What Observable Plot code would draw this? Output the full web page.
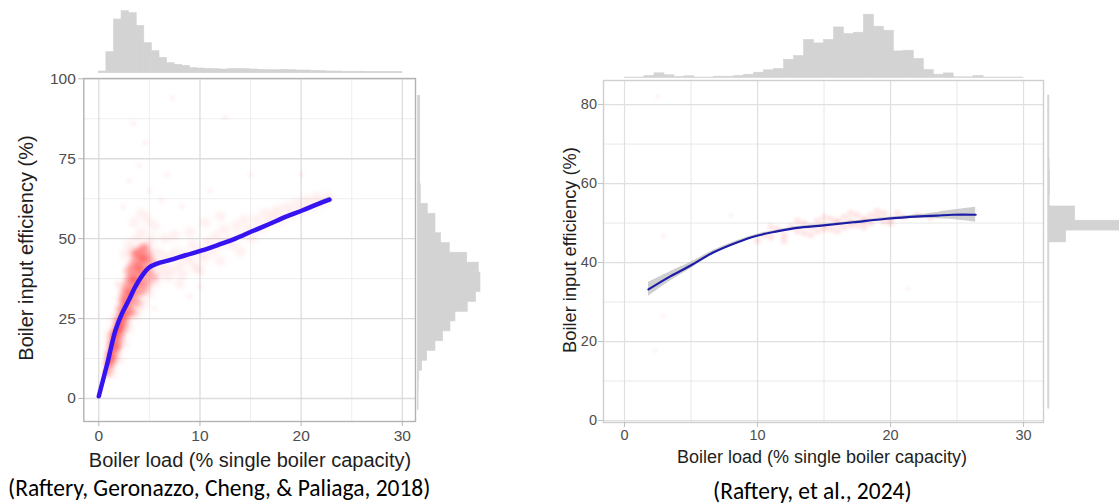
<!DOCTYPE html>
<html><head><meta charset="utf-8">
<script src="https://cdn.jsdelivr.net/npm/d3@7"></script>
<script src="https://cdn.jsdelivr.net/npm/@observablehq/plot@0.6"></script>
<style>
html,body{margin:0;padding:0;background:#fff;overflow:hidden;}
#root{position:relative;width:1119px;height:504px;overflow:hidden;}
.pl{position:absolute;}
.t{position:absolute;font-family:"Liberation Sans",Arial,sans-serif;color:#1e1e1e;white-space:nowrap;transform:translate(-50%,-50%);}
.ty{transform:translate(-50%,-50%) rotate(-90deg);}
.cap{position:absolute;font-family:Carlito,Lato,"Open Sans",sans-serif;color:#000;white-space:nowrap;transform:translateY(-50%);}
</style></head><body><div id="root"></div>
<script>
// ---------------- DATA ----------------
// Left panel (Raftery, Geronazzo, Cheng, & Paliaga, 2018)
const leftXTicks = [0, 10, 20, 30];
const leftXMinor = [5, 15, 25];
const leftYTicks = [0, 25, 50, 75, 100];
const leftYMinor = [12.5, 37.5, 62.5, 87.5];

const leftFitX = [0, 0.83, 1.65, 2.3, 2.96, 3.6, 4.3, 4.94, 5.77, 6.92, 8.57, 10.2, 11.86, 13.5, 15.15, 16.8, 18.45, 20.1, 21.7, 22.8];
const leftFitY = [0.7, 10.8, 21.3, 26.6, 30.7, 34.9, 38.5, 40.9, 42.2, 43.2, 44.8, 46.3, 48.1, 50.0, 52.3, 54.5, 56.8, 58.8, 60.9, 62.2];
const leftFitSE = [0.6, 0.4, 0.3, 0.3, 0.3, 0.3, 0.3, 0.3, 0.3, 0.3, 0.3, 0.3, 0.3, 0.3, 0.3, 0.35, 0.4, 0.5, 0.6, 0.8];

const leftCloudCore = [[0.8,8],[0.9,11],[1.0,14],[1.1,10],[1.2,13],[1.2,17],[1.3,15],[1.4,19],[1.4,12],[1.5,17],[1.6,21],[1.6,14],[1.7,19],[1.8,23],[1.8,16],[1.9,21],[2.0,25],[2.0,18],[2.1,23],[2.1,28],[2.2,20],[2.3,26],[2.3,31],[2.4,22],[2.5,28],[2.5,33],[2.6,24],[2.7,30],[2.7,35],[2.8,26],[2.9,32],[2.9,37],[3.0,28],[3.0,40],[3.1,34],[3.2,30],[3.2,38],[3.3,42],[3.4,32],[3.4,36],[3.5,40],[3.5,45],[3.6,34],[3.7,38],[3.7,43],[3.8,30],[3.9,36],[3.9,41],[4.0,45],[4.0,33],[4.1,39],[4.2,43],[4.2,36],[4.3,47],[4.4,40],[4.5,34],[4.5,44],[4.6,38],[4.7,42],[4.8,36],[4.9,45],[5.0,40],[5.2,43],[5.4,38],[1.5,20],[2.0,22],[2.5,26],[3.0,33],[3.5,37],[4.0,41],[4.4,44],[3.3,27],[2.6,30],[3.8,46],[4.6,47],[1.1,12],[1.7,16],[2.2,24]];
const leftCloudHalo = [[1.0,20],[1.5,25],[1.3,8],[2.0,12],[2.5,17],[2.2,35],[2.8,40],[3.0,22],[3.3,46],[3.6,26],[3.8,50],[4.0,28],[4.3,52],[4.5,30],[4.8,48],[5.0,33],[5.2,50],[5.5,46],[5.6,36],[5.8,42],[6.0,39],[6.2,45],[6.5,41],[6.8,38],[7.0,44],[7.3,40],[7.6,46],[8.0,42],[8.3,39],[8.6,45],[9.0,43],[9.3,48],[9.6,41],[10.0,46],[10.4,44],[10.8,49],[11.2,46],[11.6,51],[12.0,48],[12.4,53],[12.8,50],[13.2,48],[13.6,54],[14.0,51],[14.4,56],[14.8,53],[15.2,50],[15.6,56],[16.0,53],[16.4,58],[16.8,55],[17.2,57],[17.6,59],[18.0,56],[18.5,60],[19.0,58],[19.5,61],[20.0,59],[20.5,62],[21.0,60],[21.5,63],[22.0,61],[22.6,63],[3.5,55],[4.2,58],[4.8,56],[5.5,54],[6.5,50],[7.5,51],[9.0,52],[10.5,55],[12.0,57],[8.0,36],[10.0,40],[12.0,43],[14.0,46],[3.0,48],[2.6,45]];
const leftCloudFaint = [[3.0,68],[4.0,73],[5.0,65],[6.2,62],[7.3,94],[2.4,60],[8.2,60],[12.5,88],[15.0,70],[9.0,32],[1.8,36],[4.6,80],[6.8,70],[11,65],[20,70],[3.4,86],[5.5,28],[10,35]];

// marginal histogram of boiler load (bin edges, heights)
const leftLoadEdges = [0,0.75,1.5,2.25,3,3.75,4.5,5.25,6,6.75,7.5,8.25,9,9.75,10.5,11.25,12,12.75,13.5,14.25,15,15.75,16.5,17.25,18,18.75,19.5,20.25,21,21.75,22.5,23.25,24,24.75,25.5,26.25,27,27.75,28.5,29.25,30];
const leftLoadCounts = [1.7,21,53.7,62,60,47.3,30,22,15.3,10,8.3,7.3,5,4.7,4.3,4,3.7,4,4.3,4,3.7,3.3,3,3,3.3,3,2.7,2.7,2.3,2,1.7,1.7,1.5,1.5,1.5,1.3,1.3,1.3,1.3,1.3];
// marginal histogram of efficiency
const leftEffEdges = [-3.6,-0.5,2.6,5.6,8.7,11.8,14.9,17.9,21.0,24.1,27.1,30.2,33.3,36.3,39.4,42.5,45.6,48.6,51.7,54.8,57.8,60.9,64.0,67.0,70.1,73.2,76.3,79.3,82.4,85.5,88.5,91.6,94.7];
const leftEffCounts = [0.8,0.8,1,1.5,4.4,9.4,17.7,25.4,32.7,37.7,50,58.4,62.7,62.7,61,49.4,32,23.4,17.7,17.7,10,3,3,2.5,2.5,2.5,2.5,2.5,2.5,2.5,2.5,2.5];

// Right panel (Raftery, et al., 2024)
const rightXTicks = [0, 10, 20, 30];
const rightXMinor = [5, 15, 25];
const rightYTicks = [0, 20, 40, 60, 80];
const rightYMinor = [10, 30, 50, 70];

const rightFitX = [1.8, 3.44, 4.94, 6.7, 8.45, 9.96, 11.47, 12.97, 14.97, 17.2, 19.7, 22.2, 23.5, 24.7, 26.4];
const rightFitY = [33.2, 36.5, 39.2, 42.6, 45.1, 46.8, 47.9, 48.8, 49.4, 50.2, 51.1, 51.7, 51.9, 52.1, 52.1];
const rightFitSE = [1.8, 1.2, 0.8, 0.5, 0.4, 0.35, 0.3, 0.3, 0.3, 0.3, 0.3, 0.5, 0.8, 1.2, 1.9];

const rightCloud = [[10,45.5],[10.5,47],[11,46.5],[11.5,48.5],[12,47],[12.5,49],[13,48],[13.5,47.5],[13.5,50],[14,49],[14.5,48],[14.5,50.5],[15,49.5],[15.5,48.5],[15.5,51],[16,50],[16.5,49],[16.5,51.5],[17,50.5],[17.5,49.5],[17.5,52],[18,51],[18.5,50],[18.5,52],[19,51.5],[19.5,50.5],[19.5,52.5],[20,51],[20.5,52.5],[21,51.5],[22,52],[23,51.5],[11,49],[12,45.5],[13,50.5],[14,47],[15,51.5],[16,48],[17,52.5],[18,49],[19,53],[20,50],[16,50.5],[17,49.5],[18,50.5],[15,48.5]];
const rightCloudFaint = [[2.5,82],[2.9,46.8],[2.9,26.6],[2.3,17.7],[21.3,33.4],[8,52],[24,53]];

const rightLoadEdges = [0,0.75,1.5,2.25,3,3.75,4.5,5.25,6,6.75,7.5,8.25,9,9.75,10.5,11.25,12,12.75,13.5,14.25,15,15.75,16.5,17.25,18,18.75,19.5,20.25,21,21.75,22.5,23.25,24,24.75,25.5,26.25,27,27.75,28.5,29.25,30];
const rightLoadCounts = [0.5,0.5,2,4.7,2.7,1,1.7,0.5,0.5,1.3,1.3,2,3.3,5.3,7.7,9,18.3,22,38,34.6,38,50.6,44,45.3,63.3,51.3,47.3,26.6,27.3,19,8,3.3,4.6,0.7,0.7,2,0.5,0.5,0.5,0.5];
const rightEffEdges = [3,6,9,12,15,18,21,24,27,30,33,36,39,42,45.1,48.1,50.6,54.2,57.2,60.2,63.2,66.2,69.2,72.2,75.2,78.2,81.2,82.3];
const rightEffCounts = [1.2,1.2,1.2,1.2,1.2,1.2,1.2,1.2,1.2,1.2,1.2,1.2,1.2,1.2,18,80,27,1.5,2,2,1.5,1.2,1.2,1.2,1.2,1.2,1.2];

// ---------------- DRAW ----------------
const root = document.getElementById("root");
const FONT = '"Liberation Sans", Arial, sans-serif';
const HIST = "#d3d3d3";
function place(el, left, top) { el.classList.add("pl"); el.style.left = left + "px"; el.style.top = top + "px"; root.appendChild(el); return el; }
function text(cls, str, x, y, size) { const d = document.createElement("div"); d.className = cls; d.textContent = str; d.style.left = x + "px"; d.style.top = y + "px"; d.style.fontSize = size + "px"; root.appendChild(d); }
function blurDots(svg, pxs) { svg.querySelectorAll('g[aria-label="dot"]').forEach((g, i) => g.style.filter = `blur(${pxs[i] ?? pxs[pxs.length - 1]}px)`); }
const baseStyle = (fs) => ({background: "transparent", fontFamily: FONT, fontSize: fs + "px", color: "#4d4d4d", overflow: "visible"});

const fitTable = (xs, ys, se) => xs.map((x, i) => ({x, y: ys[i], lo: ys[i] - se[i], hi: ys[i] + se[i]}));
const binTable = (edges, counts) => counts.map((c, i) => ({a: edges[i], b: edges[i + 1], c}));
const histStyle = {fill: HIST, stroke: HIST, strokeWidth: 0.6, inset: 0};

// ---- Left panel ----
const LD = {x: [-1.48, 31.3], y: [-7.2, 100.1]};
const leftMain = Plot.plot({
  width: 420, height: 470, marginLeft: 83.3, marginRight: 5, marginTop: 78, marginBottom: 49,
  x: {domain: LD.x}, y: {domain: LD.y},
  style: baseStyle(15.5),
  marks: [
    Plot.ruleX(leftXMinor, {stroke: "#eeeeee", strokeWidth: 1}),
    Plot.ruleY(leftYMinor, {stroke: "#eeeeee", strokeWidth: 1}),
    Plot.ruleX(leftXTicks, {stroke: "#dcdcdc", strokeWidth: 1.3}),
    Plot.ruleY(leftYTicks, {stroke: "#dcdcdc", strokeWidth: 1.3}),
    Plot.dot(leftCloudFaint, {x: d => d[0], y: d => d[1], r: 3, fill: "#ff3030", fillOpacity: 0.06}),
    Plot.dot(leftCloudHalo, {x: d => d[0], y: d => d[1], r: 5, fill: "#ff3030", fillOpacity: 0.08}),
    Plot.dot(leftCloudCore, {x: d => d[0], y: d => d[1], r: 4.5, fill: "#ff2a2a", fillOpacity: 0.32}),
    Plot.areaY(fitTable(leftFitX, leftFitY, leftFitSE), {x: "x", y1: "lo", y2: "hi", fill: "#999999", fillOpacity: 0.45, curve: "catmull-rom"}),
    Plot.line(fitTable(leftFitX, leftFitY, leftFitSE), {x: "x", y: "y", stroke: "#3614f2", strokeWidth: 4.5, curve: "catmull-rom"}),
    Plot.frame({stroke: "#b3b3b3", strokeWidth: 1.4}),
    Plot.axisX(leftXTicks, {tickSize: 5, tickPadding: 3, stroke: "#b3b3b3", fill: "#4d4d4d", label: null}),
    Plot.axisY(leftYTicks, {tickSize: 5, tickPadding: 3, stroke: "#b3b3b3", fill: "#4d4d4d", label: null})
  ]
});
blurDots(leftMain, [1.5, 2.5, 2]);
place(leftMain, 0, 0);

const leftTop = Plot.plot({
  width: 420, height: 76, marginLeft: 83.3, marginRight: 5, marginTop: 10.7, marginBottom: 3.3,
  x: {domain: LD.x, axis: null}, y: {domain: [0, 62], axis: null},
  style: baseStyle(12),
  marks: [Plot.rectY(binTable(leftLoadEdges, leftLoadCounts), {x1: "a", x2: "b", y: "c", ...histStyle})]
});
place(leftTop, 0, 0);

const leftRight = Plot.plot({
  width: 80, height: 470, marginLeft: 2.3, marginRight: 7.7, marginTop: 78, marginBottom: 49,
  x: {domain: [0, 70], axis: null}, y: {domain: LD.y, axis: null},
  style: baseStyle(12),
  marks: [Plot.rectX(binTable(leftEffEdges, leftEffCounts), {y1: "a", y2: "b", x: "c", ...histStyle})]
});
place(leftRight, 415, 0);

// ---- Right panel ----
const RD = {x: [-1.58, 31.5], y: [-0.5, 86.1]};
const rightMain = Plot.plot({
  width: 508, height: 470, marginLeft: 63, marginRight: 5, marginTop: 80, marginBottom: 48,
  x: {domain: RD.x}, y: {domain: RD.y},
  style: baseStyle(14.5),
  marks: [
    Plot.ruleX(rightXMinor, {stroke: "#e8e8e8", strokeWidth: 1}),
    Plot.ruleY(rightYMinor, {stroke: "#e8e8e8", strokeWidth: 1}),
    Plot.ruleX(rightXTicks, {stroke: "#e0e0e0", strokeWidth: 1.2}),
    Plot.ruleY(rightYTicks, {stroke: "#e0e0e0", strokeWidth: 1.2}),
    Plot.dot(rightCloudFaint, {x: d => d[0], y: d => d[1], r: 2.5, fill: "#ff4040", fillOpacity: 0.06}),
    Plot.dot(rightCloud, {x: d => d[0], y: d => d[1], r: 3.5, fill: "#ff3a3a", fillOpacity: 0.13}),
    Plot.areaY(fitTable(rightFitX, rightFitY, rightFitSE), {x: "x", y1: "lo", y2: "hi", fill: "#b5b5b5", fillOpacity: 0.65, curve: "catmull-rom"}),
    Plot.line(fitTable(rightFitX, rightFitY, rightFitSE), {x: "x", y: "y", stroke: "#1c1ca6", strokeWidth: 2.2, curve: "catmull-rom"}),
    Plot.frame({stroke: "#cfcfcf", strokeWidth: 1.4}),
    Plot.axisX(rightXTicks, {tickSize: 5, tickPadding: 2, stroke: "#c0c0c0", fill: "#4d4d4d", label: null}),
    Plot.axisY(rightYTicks, {tickSize: 5, tickPadding: 1.5, stroke: "#c0c0c0", fill: "#4d4d4d", label: null})
  ]
});
blurDots(rightMain, [1, 1.8]);
place(rightMain, 540, 0);

const rightTop = Plot.plot({
  width: 508, height: 80, marginLeft: 63, marginRight: 5, marginTop: 7.5, marginBottom: 2.5,
  x: {domain: RD.x, axis: null}, y: {domain: [0, 70], axis: null},
  style: baseStyle(12),
  marks: [Plot.rectY(binTable(rightLoadEdges, rightLoadCounts), {x1: "a", x2: "b", y: "c", ...histStyle})]
});
place(rightTop, 540, 0);

const rightRight = Plot.plot({
  width: 74, height: 470, marginLeft: 2.7, marginRight: 1.3, marginTop: 80, marginBottom: 48,
  x: {domain: [0, 70], axis: null}, y: {domain: RD.y, axis: null},
  style: baseStyle(12),
  marks: [Plot.rectX(binTable(rightEffEdges, rightEffCounts), {y1: "a", y2: "b", x: "c", ...histStyle})]
});
place(rightRight, 1045, 0);

// ---- Titles & captions ----
text("t ty", "Boiler input efficiency (%)", 26, 248, 20);
text("t", "Boiler load (% single boiler capacity)", 250, 460, 20);
text("t ty", "Boiler input efficiency (%)", 570, 250, 18.3);
text("t", "Boiler load (% single boiler capacity)", 822, 457, 18);
text("cap", "(Raftery, Geronazzo, Cheng, & Paliaga, 2018)", 8, 488, 23.5);
text("cap", "(Raftery, et al., 2024)", 713, 491, 23.5);
</script></body></html>
